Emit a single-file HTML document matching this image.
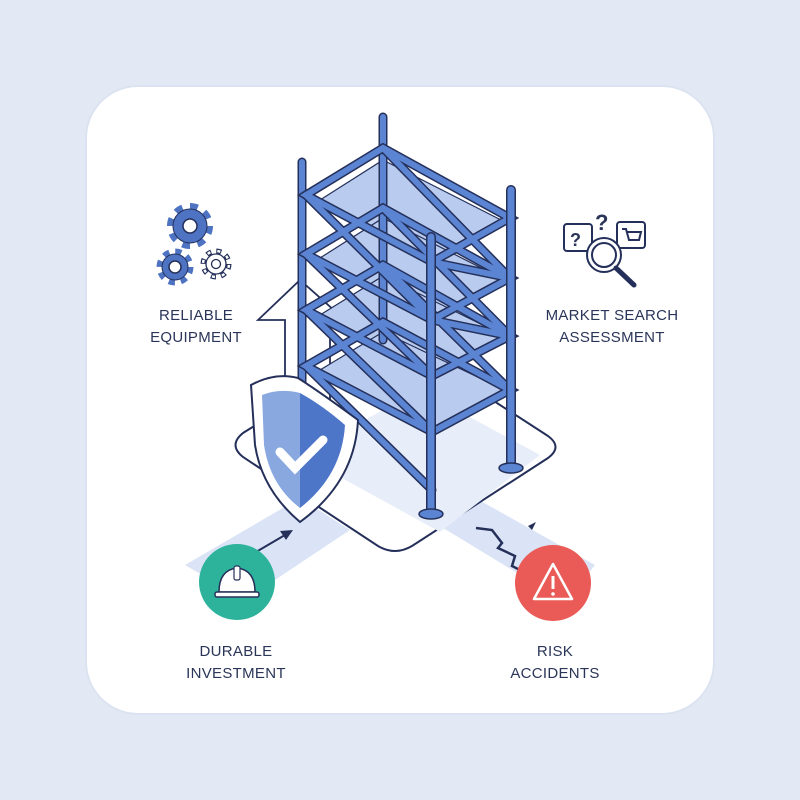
<!DOCTYPE html>
<html><head><meta charset="utf-8"><style>
html,body{margin:0;padding:0;background:#e3e9f4;}
svg{display:block}
text{font-family:"Liberation Sans",sans-serif;fill:#2a3558;font-size:15px;letter-spacing:0.3px}
</style></head><body>
<svg width="800" height="800" viewBox="0 0 800 800">
<rect width="800" height="800" fill="#e3e9f4"/>
<rect x="86" y="86" width="628" height="628" rx="52" fill="#ffffff" stroke="#dce3f0" stroke-width="2"/>
<!-- bands -->
<polygon points="185,565 300,498 350,530 245,600" fill="#dbe4f6"/>
<polygon points="430,520 470,495 595,565 565,602" fill="#dbe4f6"/>
<!-- platform -->
<path d="M243,433 Q228,445 243,457 L378,546 Q395,556 412,546 L548,458 Q563,447 548,436 L412,348 Q396,338 380,348 Z" fill="#fff" stroke="#25305a" stroke-width="2"/>
<polygon points="300,455 440,532 540,455 420,390" fill="#e8eef9"/>
<!-- arrow -->
<path d="M258,320 L300,280 L345,320 L330,320 L330,450 L285,450 L285,320 Z" fill="#fff" stroke="#25305a" stroke-width="1.8"/>
<!-- decks -->
<g stroke="#25305a" stroke-width="1.2" stroke-linejoin="round" fill="#b9cbee">
<polygon points="320,200 383,160 505,222 432,262"/>
<polygon points="320,258 383,218 505,280 432,318"/>
<polygon points="320,315 383,276 505,336 432,374"/>
<polygon points="320,370 383,332 505,390 432,430"/>
</g>
<g stroke="#25305a" stroke-width="9" stroke-linecap="round">
<line x1="302" y1="162" x2="302" y2="390"/>
<line x1="383" y1="117" x2="383" y2="340"/>
</g>
<g stroke="#5b84d3" stroke-width="6" stroke-linecap="round">
<line x1="302" y1="162" x2="302" y2="390"/>
<line x1="383" y1="117" x2="383" y2="340"/>
</g>
<g stroke="#25305a" stroke-width="9" stroke-linecap="round" fill="none">
<path d="M306,195 L383,148 L510,218 L432,262 Z M306,254 L383,208 L510,278 L432,320 Z M306,310 L383,265 L510,336 L432,376 Z M306,366 L383,322 L510,390 L432,432 Z"/>
<path d="M306,195 L432,320 M306,254 L432,376 M306,310 L432,432 M306,366 L432,490 M383,148 L510,278 M383,208 L510,336 M383,265 L510,390 M432,262 L510,278 M432,320 L510,336"/>
</g>
<g stroke="#5b84d3" stroke-width="6" stroke-linecap="round" fill="none">
<path d="M306,195 L383,148 L510,218 L432,262 Z M306,254 L383,208 L510,278 L432,320 Z M306,310 L383,265 L510,336 L432,376 Z M306,366 L383,322 L510,390 L432,432 Z"/>
<path d="M306,195 L432,320 M306,254 L432,376 M306,310 L432,432 M306,366 L432,490 M383,148 L510,278 M383,208 L510,336 M383,265 L510,390 M432,262 L510,278 M432,320 L510,336"/>
</g>
<g stroke="#25305a" stroke-width="10" stroke-linecap="round">
<line x1="511" y1="190" x2="511" y2="466"/>
<line x1="431" y1="237" x2="431" y2="512"/>
</g>
<g stroke="#5b84d3" stroke-width="7" stroke-linecap="round">
<line x1="511" y1="190" x2="511" y2="466"/>
<line x1="431" y1="237" x2="431" y2="512"/>
</g>
<ellipse cx="511" cy="468" rx="12" ry="5" fill="#5b84d3" stroke="#25305a" stroke-width="1.5"/>
<ellipse cx="431" cy="514" rx="12" ry="5" fill="#5b84d3" stroke="#25305a" stroke-width="1.5"/>
<!-- shield -->
<path d="M251,385 Q275,372 298,378 Q320,392 358,420 Q355,482 300,522 Q262,490 255,445 Z" fill="#fff" stroke="#25305a" stroke-width="2"/>
<path d="M262,395 Q280,388 300,393 L300,508 Q270,485 264,445 Z" fill="#8aa8e0"/>
<path d="M300,393 Q322,405 345,425 Q342,475 300,508 Z" fill="#4e76c8"/>
<path d="M280,452 L295,468 L323,440" fill="none" stroke="#fff" stroke-width="9" stroke-linecap="round"/>
<!-- arrow to shield -->
<line x1="256" y1="552" x2="285" y2="535" stroke="#25305a" stroke-width="2"/>
<polygon points="293,530 280,531 286,540" fill="#25305a"/>
<!-- cracks -->
<path d="M476,528 L492,530 L502,543 L498,548 L515,556 L512,566 L524,572 L520,580" fill="none" stroke="#25305a" stroke-width="2.5"/>
<path d="M528,526 L536,522 L532,530 Z" fill="#25305a"/>
<!-- circles -->
<circle cx="237" cy="582" r="38" fill="#2db39b"/>
<path d="M219,592 Q219,570 237,568 Q255,570 255,592 Z" fill="#fff" stroke="#25305a" stroke-width="1.5"/>
<rect x="215" y="592" width="44" height="5" rx="2" fill="#fff" stroke="#25305a" stroke-width="1.5"/>
<rect x="234" y="566" width="6" height="14" rx="2" fill="#fff" stroke="#25305a" stroke-width="1.2"/>
<circle cx="553" cy="583" r="38" fill="#ea5a57"/>
<path d="M553,564 L572,599 L534,599 Z" fill="none" stroke="#fff" stroke-width="2.5" stroke-linejoin="round"/>
<line x1="553" y1="576" x2="553" y2="589" stroke="#fff" stroke-width="3"/>
<circle cx="553" cy="594" r="1.8" fill="#fff"/>
<!-- gears -->
<circle cx="190" cy="226" r="19" fill="none" stroke="#4d73c2" stroke-width="8" stroke-dasharray="7.5 7.4"/>
<circle cx="190" cy="226" r="17" fill="#4d73c2" stroke="#25305a" stroke-width="1"/>
<circle cx="190" cy="226" r="7" fill="#fff" stroke="#25305a" stroke-width="1.5"/>
<circle cx="175" cy="267" r="15" fill="none" stroke="#4d73c2" stroke-width="7" stroke-dasharray="6 5.8"/>
<circle cx="175" cy="267" r="13" fill="#4d73c2" stroke="#25305a" stroke-width="1"/>
<circle cx="175" cy="267" r="6" fill="#fff" stroke="#25305a" stroke-width="1.5"/>
<circle cx="216" cy="264" r="13" fill="none" stroke="#25305a" stroke-width="5" stroke-dasharray="5 5.2"/>
<circle cx="216" cy="264" r="13" fill="none" stroke="#fff" stroke-width="2.5" stroke-dasharray="3 7.2" stroke-dashoffset="-1"/>
<circle cx="216" cy="264" r="10" fill="#fff" stroke="#25305a" stroke-width="1.3"/>
<circle cx="216" cy="264" r="4.5" fill="none" stroke="#25305a" stroke-width="1.3"/>
<!-- market icon -->
<g fill="none" stroke="#25305a" stroke-width="2">
<rect x="564" y="224" width="28" height="27" rx="3"/>
<rect x="617" y="222" width="28" height="26" rx="3"/>
<circle cx="604" cy="255" r="17" fill="#fff"/>
<circle cx="604" cy="255" r="12"/>
<line x1="616" y1="268" x2="634" y2="285" stroke-width="5" stroke-linecap="round"/>
<path d="M622,229 L626,229 L629,240 L639,240 L641,232 L627,232"/>
</g>
<text x="570" y="246" style="font-size:18px;font-weight:bold">?</text>
<text x="595" y="230" style="font-size:22px;font-weight:bold">?</text>
<!-- labels -->
<text x="196" y="320" text-anchor="middle">RELIABLE</text>
<text x="196" y="342" text-anchor="middle">EQUIPMENT</text>
<text x="612" y="320" text-anchor="middle">MARKET SEARCH</text>
<text x="612" y="342" text-anchor="middle">ASSESSMENT</text>
<text x="236" y="656" text-anchor="middle">DURABLE</text>
<text x="236" y="678" text-anchor="middle">INVESTMENT</text>
<text x="555" y="656" text-anchor="middle">RISK</text>
<text x="555" y="678" text-anchor="middle">ACCIDENTS</text>
</svg>
</body></html>
